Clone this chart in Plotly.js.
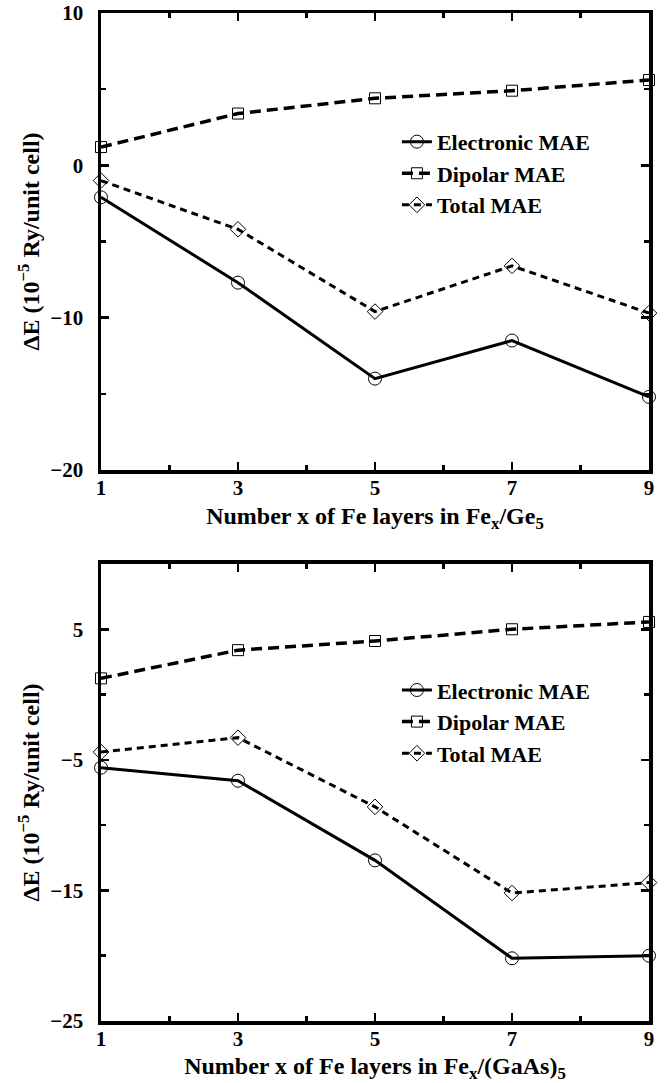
<!DOCTYPE html>
<html>
<head>
<meta charset="utf-8">
<script src="https://cdn.plot.ly/plotly-3.0.1.min.js"></script>
<style>html,body{margin:0;padding:0;background:#fff;}#chart{width:672px;height:1083px;}</style>
</head>
<body>
<div id="chart"></div>
<script>
// ---- data ----
const layers = [1, 3, 5, 7, 9];
const geElectronic = [-2.1, -7.7, -14.0, -11.5, -15.2];
const geDipolar = [1.2, 3.4, 4.4, 4.9, 5.6];
const geTotal = [-1.0, -4.2, -9.6, -6.6, -9.7];
const gaasElectronic = [-5.6, -6.6, -12.7, -20.2, -20.0];
const gaasDipolar = [1.24, 3.4, 4.1, 5.0, 5.56];
const gaasTotal = [-4.4, -3.3, -8.6, -15.2, -14.4];
const seriesNames = ['Electronic MAE', 'Dipolar MAE', 'Total MAE'];
const xTickVals = [1, 3, 5, 7, 9];
const xMinorVals = [2, 4, 6, 8];
const topYTicks = [-20, -10, 0, 10];
const topYMinor = [-15, -5, 5];
const botYTicks = [-25, -15, -5, 5];
const botYMinor = [-20, -10, 0];
const topXTitle = 'Number x of Fe layers in Fe<sub>x</sub>/Ge<sub>5</sub>';
const botXTitle = 'Number x of Fe layers in Fe<sub>x</sub>/(GaAs)<sub>5</sub>';
const yTitle = 'ΔE (10<sup>−5</sup> Ry/unit cell)';

const FONT = 'Liberation Serif, Times New Roman, serif';
const styles = [
  {line: {color: '#000', width: 3, dash: 'solid'}, marker: {symbol: 'circle-open', size: 13, color: '#000', line: {width: 1, color: '#000'}}},
  {line: {color: '#000', width: 3.5, dash: '11px,6px'}, marker: {symbol: 'square-open', size: 11, color: '#000', line: {width: 1, color: '#000'}}},
  {line: {color: '#000', width: 3, dash: '7px,5px'}, marker: {symbol: 'diamond-open', size: 12, color: '#000', line: {width: 1, color: '#000'}}}
];

function makeTraces(sets, xa, ya, legendId) {
  return sets.map((ys, i) => ({
    x: layers, y: ys, xaxis: xa, yaxis: ya,
    type: 'scatter', mode: 'lines+markers', name: seriesNames[i],
    line: styles[i].line, marker: styles[i].marker,
    cliponaxis: false, legend: legendId
  }));
}

const traces = [
  ...makeTraces([geElectronic, geDipolar, geTotal], 'x', 'y', 'legend'),
  ...makeTraces([gaasElectronic, gaasDipolar, gaasTotal], 'x2', 'y2', 'legend2')
];

function xAxis(anchor, title, standoff) {
  return {
    anchor: anchor, domain: [0, 1], range: [1, 9],
    tickmode: 'array', tickvals: xTickVals,
    ticks: 'inside', ticklen: 8, tickwidth: 2.5, tickcolor: '#000',
    minor: {tickmode: 'array', tickvals: xMinorVals, ticks: 'inside', ticklen: 5, tickwidth: 2.5, tickcolor: '#000'},
    showline: true, linewidth: 3.5, linecolor: '#000', mirror: 'ticks',
    showgrid: false, zeroline: false,
    tickfont: {family: FONT, size: 21, weight: 'bold', color: '#000'},
    ticklabelstandoff: -4,
    title: {text: title, font: {family: FONT, size: 24, weight: 'bold', color: '#000'}, standoff: standoff},
    automargin: false
  };
}
function yAxis(anchor, domain, range, tv, mv) {
  return {
    anchor: anchor, domain: domain, range: range,
    tickmode: 'array', tickvals: tv,
    ticks: 'inside', ticklen: 8, tickwidth: 2.5, tickcolor: '#000',
    minor: {tickmode: 'array', tickvals: mv, ticks: 'inside', ticklen: 5, tickwidth: 2.5, tickcolor: '#000'},
    showline: true, linewidth: 3.5, linecolor: '#000', mirror: 'ticks',
    showgrid: false, zeroline: false,
    tickfont: {family: FONT, size: 21, weight: 'bold', color: '#000'},
    ticklabelstandoff: 10,
    title: {text: yTitle, font: {family: FONT, size: 24, weight: 'bold', color: '#000'}, standoff: 5},
    automargin: false
  };
}

const legendBase = {
  font: {family: FONT, size: 22, weight: 'bold', color: '#000'},
  bgcolor: 'rgba(0,0,0,0)', borderwidth: 0,
  xanchor: 'left', yanchor: 'top', tracegroupgap: 0
};

const layout = {
  width: 672, height: 1083,
  margin: {l: 101, r: 23, t: 13, b: 62},
  paper_bgcolor: '#fff', plot_bgcolor: '#fff',
  showlegend: true,
  xaxis: xAxis('y', topXTitle, 9),
  yaxis: yAxis('x', [0.5466, 1], [-20, 10], topYTicks, topYMinor),
  xaxis2: xAxis('y2', botXTitle, 11),
  yaxis2: yAxis('x2', [0, 0.4534], [-25, 10], botYTicks, botYMinor),
  legend: Object.assign({}, legendBase, {x: 0.54, y: 0.893}),
  legend2: Object.assign({}, legendBase, {x: 0.54, y: 0.349})
};

Plotly.newPlot('chart', traces, layout, {displayModeBar: false, staticPlot: true});
</script>
</body>
</html>
